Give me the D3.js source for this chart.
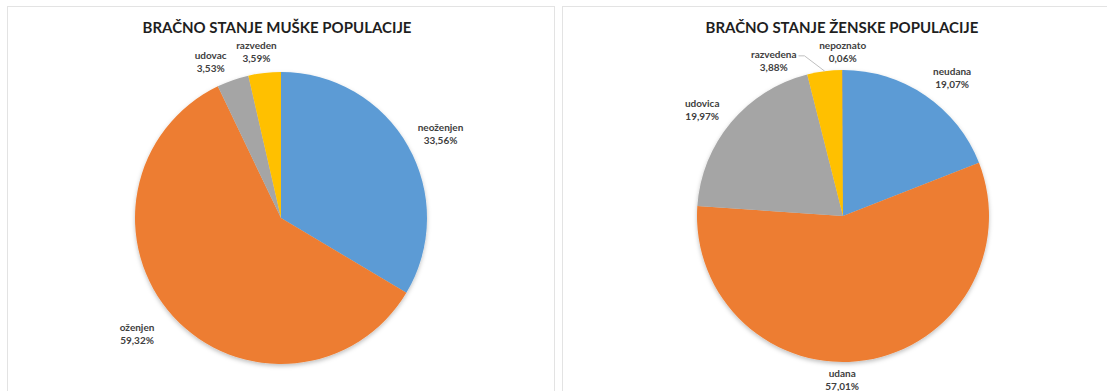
<!DOCTYPE html>
<html>
<head>
<meta charset="utf-8">
<script src="https://cdn.jsdelivr.net/npm/d3@7"></script>
<style>
    body { margin: 0; background: #fff; }
    svg { display: block; font-family: Lato, "Open Sans", sans-serif; }
</style>
</head>
<body>
<svg id="chart" width="1107" height="391"></svg>
<script>
// data
const maleCategories = ["neoženjen", "oženjen", "udovac", "razveden"];
const maleValues = [33.56, 59.32, 3.53, 3.59];
const femaleCategories = ["neudana", "udana", "udovica", "razvedena", "nepoznato"];
const femaleValues = [19.07, 57.01, 19.97, 3.88, 0.06];
const titles = ["BRAČNO STANJE MUŠKE POPULACIJE", "BRAČNO STANJE ŽENSKE POPULACIJE"];
const colors = ["#5B9BD5", "#ED7D31", "#A5A5A5", "#FFC000", "#4472C4"];

// label nudges (degrees / px) from default outside position
const maleNudge = [[2, 8], [3.5, 13], [-5, -1], [-2, -5]];
const femaleNudge = [[4, 4], [9, -8], [-3, 4], [-17, -3], [0, -8]];
const leaderFor = ["razvedena"];

const svg = d3.select("#chart");

const defs = svg.append("defs");
defs.append("filter")
    .attr("id", "shadow")
    .attr("x", "-20%").attr("y", "-20%")
    .attr("width", "140%").attr("height", "140%")
    .append("feDropShadow")
    .attr("dx", 0)
    .attr("dy", 2)
    .attr("stdDeviation", 2)
    .attr("flood-color", "#000")
    .attr("flood-opacity", 0.25);

const panels = [
    { x: 7.5, w: 547, cx: 281, cy: 218, titleX: 277, cats: maleCategories, vals: maleValues, nudge: maleNudge },
    { x: 562.5, w: 560, cx: 843, cy: 216, titleX: 842, cats: femaleCategories, vals: femaleValues, nudge: femaleNudge }
];

const radius = 146;
const fmt = v => v.toFixed(2).replace(".", ",") + "%";

const drawPanel = (p, i) => {
    svg.append("rect")
        .attr("x", p.x)
        .attr("y", 6.5)
        .attr("width", p.w)
        .attr("height", 420)
        .attr("fill", "#fff")
        .attr("stroke", "#e3e3e3")
        .attr("stroke-width", 1);

    svg.append("text")
        .attr("x", p.titleX)
        .attr("y", 33)
        .attr("text-anchor", "middle")
        .attr("font-size", 15)
        .attr("font-weight", "bold")
        .attr("fill", "#1f1f1f")
        .text(titles[i]);

    const data = p.cats.map((c, j) => ({ cat: c, value: p.vals[j], idx: j }));

    const pie = d3.pie()
        .sort(null)
        .value(d => d.value);

    const arc = d3.arc()
        .innerRadius(0)
        .outerRadius(radius);

    const arcs = pie(data);

    const g = svg.append("g")
        .attr("transform", `translate(${p.cx},${p.cy})`);

    g.append("g")
        .attr("filter", "url(#shadow)")
        .selectAll("path")
        .data(arcs)
        .join("path")
        .attr("d", arc)
        .attr("fill", d => colors[d.data.idx]);

    // labels
    const labels = g.append("g")
        .attr("font-size", 10)
        .attr("font-weight", "bold")
        .attr("fill", "#404040")
        .attr("text-anchor", "middle");

    arcs.forEach(d => {
        const mid = (d.startAngle + d.endAngle) / 2;
        const [da, dr] = p.nudge[d.data.idx];
        const a = mid + da * Math.PI / 180;
        const r = radius + 26 + dr;
        const lx = r * Math.sin(a);
        const ly = -r * Math.cos(a);

        const t1 = labels.append("text")
            .attr("x", lx)
            .attr("y", ly - 6)
            .attr("dominant-baseline", "middle")
            .text(d.data.cat);

        labels.append("text")
            .attr("x", lx)
            .attr("y", ly + 7)
            .attr("dominant-baseline", "middle")
            .text(fmt(d.data.value));

        if (leaderFor.includes(d.data.cat)) {
            const w = t1.node().getComputedTextLength();
            const x0 = lx + w / 2 + 2;
            const y0 = ly - 6;
            const tx = radius * Math.sin(mid);
            const ty = -radius * Math.cos(mid);
            g.append("polyline")
                .attr("points", `${x0},${y0} ${x0 + 6},${y0} ${tx},${ty}`)
                .attr("fill", "none")
                .attr("stroke", "#bfbfbf")
                .attr("stroke-width", 1);
        }
    });
};

panels.forEach(drawPanel);
</script>
</body>
</html>
